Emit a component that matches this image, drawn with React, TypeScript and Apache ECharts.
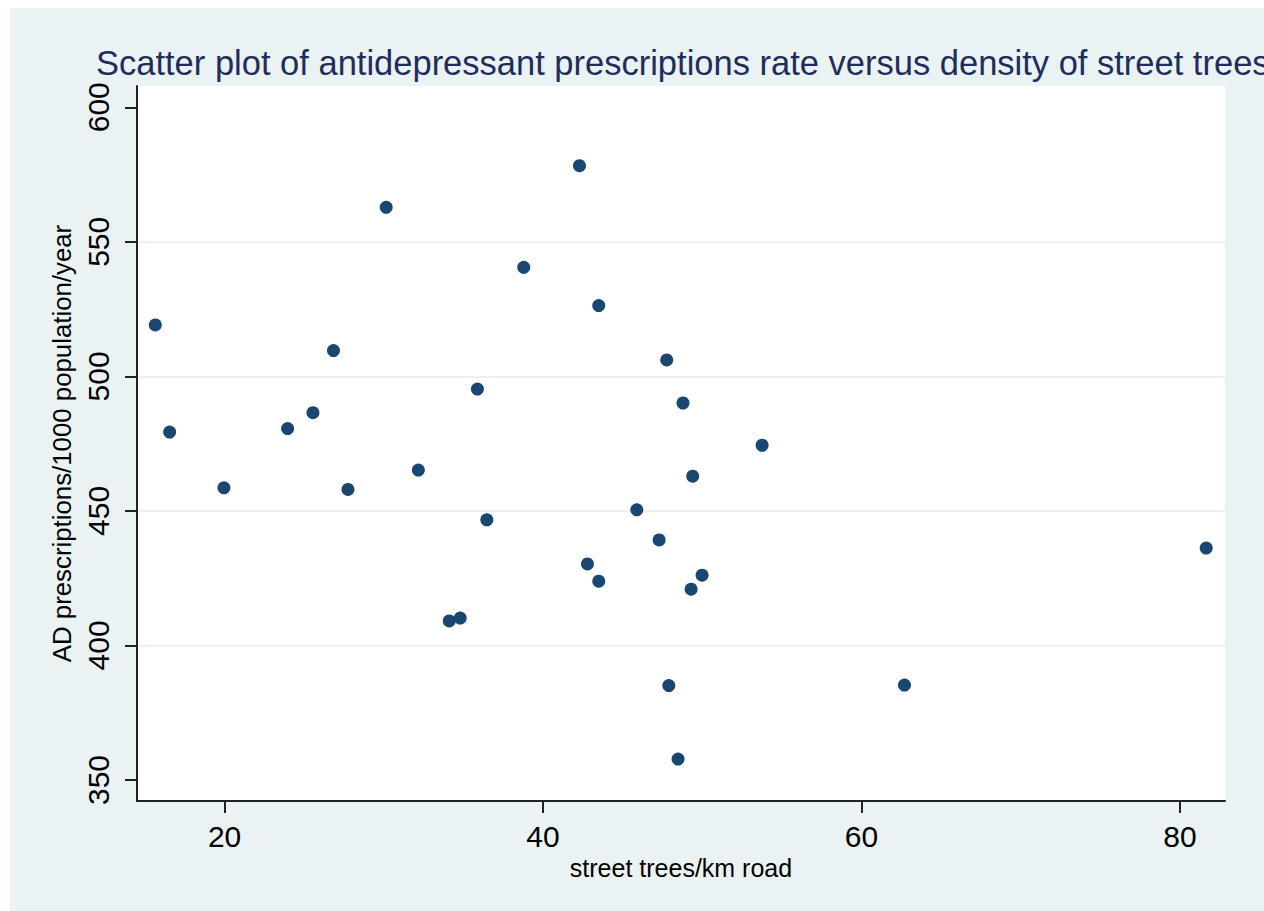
import React, { useEffect, useRef } from "react";
import * as echarts from "echarts";

const titleText =
  "Scatter plot of antidepressant prescriptions rate versus density of street trees";
const xAxisTitle = "street trees/km road";
const yAxisTitle = "AD prescriptions/1000 population/year";

const xTicks = [20, 40, 60, 80];
const yTicks = [350, 400, 450, 500, 550, 600];

// street trees per km road
const treeDensity = [
  15.65, 16.55, 19.96, 23.96, 25.55, 26.84, 27.75, 30.15, 32.17, 34.11,
  34.8, 35.88, 36.47, 38.79, 42.29, 42.79, 43.5, 43.5, 45.89, 47.29,
  47.77, 47.9, 48.79, 48.48, 49.4, 49.3, 49.99, 53.76, 62.7, 81.65,
];
// AD prescriptions per 1000 population per year
const prescriptionRate = [
  519.1, 479.3, 458.6, 480.6, 486.5, 509.6, 458.0, 562.8, 465.2, 409.1,
  410.2, 495.3, 446.7, 540.5, 578.3, 430.3, 526.3, 423.9, 450.4, 439.2,
  506.1, 385.1, 490.1, 357.8, 462.9, 420.9, 426.1, 474.4, 385.3, 436.2,
];

const FONT = 'Arial, "Liberation Sans", sans-serif';

export default function App() {
  const ref = useRef<HTMLDivElement>(null);
  useEffect(() => {
    if (!ref.current) return;
    const chart = echarts.init(ref.current, undefined, { renderer: "svg" });
    const points = treeDensity.map((x, i) => [x, prescriptionRate[i]]);
    chart.setOption({
      animation: false,
      backgroundColor: "#eaf2f3",
      title: {
        text: titleText,
        left: 81,
        top: 32,
        textStyle: {
          fontFamily: FONT,
          fontSize: 34.5,
          fontWeight: "normal",
          color: "#1f2d5c",
        },
      },
      grid: {
        left: 127,
        top: 78,
        width: 1088,
        height: 715,
        show: true,
        backgroundColor: "#ffffff",
        borderWidth: 0,
      },
      xAxis: {
        type: "value",
        min: 14.5,
        max: 82.83,
        name: xAxisTitle,
        nameLocation: "middle",
        nameGap: 50,
        nameTextStyle: { fontFamily: FONT, fontSize: 25, color: "#000" },
        axisLine: { show: true, onZero: false, lineStyle: { color: "#222", width: 2 } },
        axisTick: {
          show: true,
          length: 12,
          customValues: xTicks,
          lineStyle: { color: "#222", width: 2 },
        },
        axisLabel: {
          customValues: xTicks,
          margin: 20,
          fontFamily: FONT,
          fontSize: 30,
          color: "#000",
        },
        splitLine: { show: false },
      },
      yAxis: {
        type: "value",
        min: 342.2,
        max: 607.9,
        name: yAxisTitle,
        nameLocation: "middle",
        nameGap: 49,
        nameTextStyle: { fontFamily: FONT, fontSize: 25.8, color: "#000" },
        axisLine: { show: true, onZero: false, lineStyle: { color: "#222", width: 2 } },
        axisTick: {
          show: true,
          length: 12,
          customValues: yTicks,
          lineStyle: { color: "#222", width: 2 },
        },
        axisLabel: {
          customValues: yTicks,
          rotate: 90,
          margin: 24,
          fontFamily: FONT,
          fontSize: 30,
          color: "#000",
        },
        splitLine: {
          show: true,
          showMinLine: false,
          showMaxLine: false,
          lineStyle: { color: "#eaf2f3", width: 2 },
        },
      },
      series: [
        {
          type: "scatter",
          data: points,
          symbol: "circle",
          symbolSize: 13,
          itemStyle: { color: "#1a476f", opacity: 1 },
        },
      ],
    });
    return () => chart.dispose();
  }, []);
  return (
    <div
      ref={ref}
      style={{
        position: "fixed",
        left: 10,
        top: 8,
        width: 1254,
        height: 903,
      }}
    />
  );
}
